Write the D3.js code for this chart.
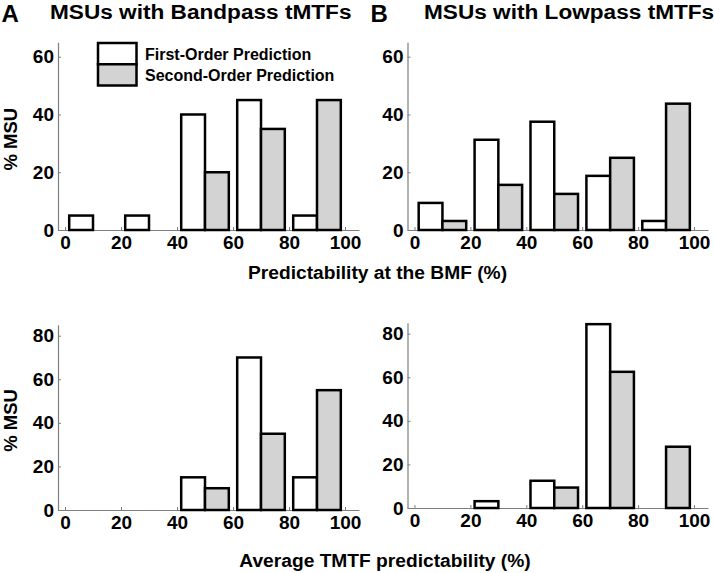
<!DOCTYPE html>
<html>
<head>
<meta charset="utf-8">
<script src="https://cdn.jsdelivr.net/npm/d3@7"></script>
<style>
  html, body { margin: 0; padding: 0; background: #fff; }
  svg { display: block; }
  text { font-family: "Liberation Sans", Arial, Helvetica, sans-serif; fill: #000; }
</style>
</head>
<body>
<svg id="chart" width="714" height="573"></svg>
<script>
// ---------- data ----------
const binStarts = [0, 20, 40, 60, 80];
const xTicks = [0, 20, 40, 60, 80, 100];
const yTicksTop = [0, 20, 40, 60];
const yTicksBottom = [0, 20, 40, 60, 80];

const seriesNames = ["First-Order Prediction", "Second-Order Prediction"];

// Panel A (bandpass) – predictability at BMF
const aTopFirst  = [5, 5, 40, 45, 5];
const aTopSecond = [0, 0, 20, 35, 45];
// Panel B (lowpass) – predictability at BMF
const bTopFirst  = [9.375, 31.25, 37.5, 18.75, 3.125];
const bTopSecond = [3.125, 15.625, 12.5, 25, 43.75];
// Panel A – average TMTF predictability
const aBotFirst  = [0, 0, 15, 70, 15];
const aBotSecond = [0, 0, 10, 35, 55];
// Panel B – average TMTF predictability
const bBotFirst  = [0, 3.125, 12.5, 84.375, 0];
const bBotSecond = [0, 0, 9.375, 62.5, 28.125];

const titleA = "MSUs with Bandpass tMTFs";
const titleB = "MSUs with Lowpass tMTFs";
const xLabelTop = "Predictability at the BMF (%)";
const xLabelBottom = "Average TMTF predictability (%)";
const yLabel = "% MSU";

// ---------- styling / layout ----------
const AXIS_COLOR = "#7f7f7f";
const FILL_FIRST = "#ffffff";
const FILL_SECOND = "#d3d3d3";
const BAR_STROKE = "#000";
const BAR_SW = 2.5;
const FONT = '"Liberation Sans", Arial, Helvetica, sans-serif';

const svg = d3.select("#chart");

function label(g, x, y, str, o) {
  o = o || {};
  return g.append("text")
    .attr("transform", `translate(${x},${y}) ${o.rotate ? "rotate(" + o.rotate + ")" : ""} scale(${o.sx || 1},1)`)
    .attr("text-anchor", o.anchor || "start")
    .style("font-size", (o.size || 16) + "px")
    .style("font-weight", o.weight || "bold")
    .text(str);
}

const xDomain = [-2.5, 105];

const panels = [
  { first: aTopFirst, second: aTopSecond, xr: [58, 359],    base: 230, top: 42.3,  ymax: 65, yt: yTicksTop,    showZero: false },
  { first: bTopFirst, second: bTopSecond, xr: [407.5, 708], base: 230, top: 42.3,  ymax: 65, yt: yTicksTop,    showZero: false },
  { first: aBotFirst, second: aBotSecond, xr: [58, 359],    base: 510, top: 324.8, ymax: 85, yt: yTicksBottom, showZero: true },
  { first: bBotFirst, second: bBotSecond, xr: [407.5, 708], base: 508, top: 322.8, ymax: 85, yt: yTicksBottom, showZero: true }
];

const TICK_SIZE = 19;

panels.forEach(p => {
  const x = d3.scaleLinear().domain(xDomain).range(p.xr);
  const y = d3.scaleLinear().domain([0, p.ymax]).range([p.base, p.top]);
  const g = svg.append("g");

  const xa = g.append("g").attr("transform", `translate(0,${p.base})`)
    .call(d3.axisBottom(x).tickValues(xTicks).tickSize(-3).tickSizeOuter(0).tickPadding(6));
  const ya = g.append("g").attr("transform", `translate(${p.xr[0]},0)`)
    .call(d3.axisLeft(y).tickValues(p.yt).tickSize(-3).tickSizeOuter(0).tickPadding(4));

  [xa, ya].forEach(a => {
    a.select(".domain").attr("stroke", AXIS_COLOR).attr("stroke-width", 1.2);
    a.selectAll(".tick line").attr("stroke", AXIS_COLOR).attr("stroke-width", 1);
    a.selectAll(".tick text")
      .attr("fill", "#000")
      .style("font-family", FONT)
      .style("font-size", TICK_SIZE + "px")
      .style("font-weight", "bold");
  });

  const rows = [];
  binStarts.forEach((b, i) => {
    rows.push({ x0: b + 1.5, x1: b + 10, v: p.first[i], fill: FILL_FIRST });
    rows.push({ x0: b + 10, x1: b + 18.5, v: p.second[i], fill: FILL_SECOND });
  });
  g.append("g").selectAll("rect")
    .data(rows.filter(r => p.showZero || r.v > 0))
    .join("rect")
    .attr("x", r => x(r.x0))
    .attr("width", r => x(r.x1) - x(r.x0))
    .attr("y", r => y(r.v))
    .attr("height", r => y(0) - y(r.v))
    .attr("fill", r => r.fill)
    .attr("stroke", BAR_STROKE)
    .attr("stroke-width", BAR_SW);

  if (p.xr[0] < 100) {
    label(g, 16.5, (p.base + p.top) / 2 + 3, yLabel, { rotate: -90, anchor: "middle", size: 18.5 });
  }
});

// panel letters and titles
label(svg, 1.5, 22, "A", { size: 24 });
label(svg, 370.5, 22, "B", { size: 24 });
label(svg, 50, 18.5, titleA, { size: 19.5, sx: 1.16 });
label(svg, 424, 18.5, titleB, { size: 19.5, sx: 1.16 });

// x-axis labels
label(svg, 377.5, 278.5, xLabelTop, { anchor: "middle", size: 19.2 });
label(svg, 385, 567, xLabelBottom, { anchor: "middle", size: 19.2 });

// legend
const legend = svg.append("g");
const legFills = [FILL_FIRST, FILL_SECOND];
const ly = d3.scaleBand().domain(seriesNames).range([43, 85.5]);
legend.selectAll("rect").data(seriesNames).join("rect")
  .attr("x", 98).attr("y", d => ly(d))
  .attr("width", 38.5).attr("height", ly.bandwidth())
  .attr("fill", (d, i) => legFills[i])
  .attr("stroke", BAR_STROKE).attr("stroke-width", BAR_SW);
seriesNames.forEach(n => {
  label(legend, 145, ly(n) + ly.bandwidth() / 2 + 6, n, { size: 16 });
});
</script>
</body>
</html>
